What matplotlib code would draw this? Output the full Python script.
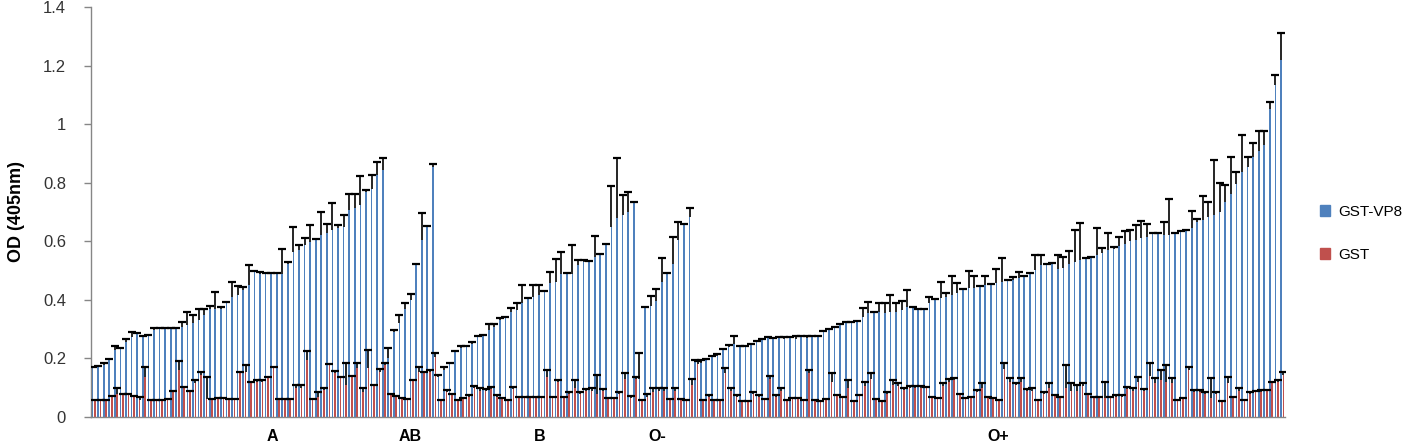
import numpy as np
import matplotlib
matplotlib.use("Agg")
import matplotlib.pyplot as plt
from matplotlib.patches import Patch

plt.rcParams['font.family'] = ['Liberation Sans', 'DejaVu Sans']

# group names and where their labels sit (axes fraction)
groups = ["A", "AB", "B", "O-", "O+"]
group_label_x = [0.1516, 0.2672, 0.3761, 0.4740, 0.7596]

# ---- GST-VP8 (blue) means and upper errors, sorted within each group ----
a_vp8 = [0.166, 0.17, 0.177, 0.195, 0.23, 0.232, 0.257, 0.274, 0.285, 0.272,
         0.276, 0.297, 0.30, 0.30, 0.30, 0.302, 0.308, 0.314, 0.32, 0.33,
         0.348, 0.37, 0.37, 0.37, 0.388, 0.41, 0.416, 0.433, 0.45, 0.496,
         0.49, 0.488, 0.488, 0.488, 0.49, 0.524, 0.564, 0.57, 0.587, 0.598,
         0.604, 0.62, 0.627, 0.638, 0.644, 0.65, 0.706, 0.712, 0.724, 0.77,
         0.78, 0.826, 0.843]
a_vp8_err = [0.005, 0.003, 0.006, 0.003, 0.013, 0.003, 0.01, 0.016, 0.003, 0.005,
             0.005, 0.007, 0.003, 0.003, 0.003, 0.003, 0.016, 0.046, 0.028, 0.04,
             0.02, 0.01, 0.057, 0.004, 0.003, 0.05, 0.03, 0.012, 0.07, 0.004,
             0.004, 0.003, 0.003, 0.003, 0.085, 0.005, 0.086, 0.017, 0.023, 0.057,
             0.005, 0.08, 0.033, 0.093, 0.01, 0.04, 0.054, 0.048, 0.10, 0.005,
             0.046, 0.044, 0.04]
ab_vp8 = [0.20, 0.29, 0.32, 0.37, 0.40, 0.519, 0.606, 0.65, 0.855]
ab_vp8_err = [0.034, 0.007, 0.028, 0.02, 0.02, 0.003, 0.089, 0.003, 0.008]
b_vp8 = [0.138, 0.16, 0.183, 0.223, 0.234, 0.24, 0.25, 0.274, 0.277, 0.297,
         0.308, 0.33, 0.337, 0.36, 0.365, 0.388, 0.405, 0.41, 0.416, 0.428,
         0.456, 0.462, 0.49, 0.49, 0.49, 0.519, 0.53, 0.53, 0.547, 0.553,
         0.587, 0.65, 0.681, 0.69, 0.70, 0.73]
b_vp8_err = [0.005, 0.01, 0.003, 0.003, 0.008, 0.003, 0.007, 0.003, 0.003, 0.019,
             0.008, 0.007, 0.003, 0.011, 0.025, 0.062, 0.003, 0.04, 0.034, 0.003,
             0.04, 0.078, 0.074, 0.003, 0.097, 0.017, 0.006, 0.003, 0.071, 0.003,
             0.003, 0.138, 0.202, 0.068, 0.069, 0.003]
oneg_vp8 = [0.13, 0.371, 0.38, 0.397, 0.462, 0.49, 0.524, 0.604, 0.655, 0.684]
oneg_vp8_err = [0.09, 0.003, 0.033, 0.04, 0.08, 0.003, 0.09, 0.063, 0.003, 0.028]
opos_vp8 = [0.19, 0.185, 0.195, 0.205, 0.21, 0.23, 0.24, 0.25, 0.24, 0.24,
            0.245, 0.255, 0.265, 0.27, 0.265, 0.27, 0.265, 0.27, 0.265, 0.275,
            0.27, 0.272,
            0.272, 0.291, 0.297, 0.303, 0.314, 0.32, 0.322, 0.325, 0.342, 0.354,
            0.356, 0.36, 0.354, 0.36, 0.36, 0.365, 0.377, 0.371, 0.367, 0.365,
            0.388, 0.40, 0.405, 0.41, 0.416, 0.422, 0.433, 0.44, 0.44, 0.445,
            0.45, 0.45, 0.456, 0.462, 0.465, 0.467, 0.473, 0.479, 0.488, 0.502,
            0.519, 0.519, 0.524,
            0.507, 0.51, 0.524, 0.53, 0.536, 0.54, 0.545, 0.553, 0.56, 0.57,
            0.575, 0.585, 0.59, 0.60, 0.604, 0.61, 0.615, 0.627, 0.627, 0.621,
            0.621, 0.627, 0.632, 0.636, 0.645, 0.667, 0.672, 0.684, 0.69, 0.70,
            0.735, 0.763, 0.797, 0.837, 0.854, 0.888, 0.91, 0.93, 1.053, 1.133,
            1.218]
opos_vp8_err = [0.003, 0.008, 0.003, 0.003, 0.005, 0.003, 0.005, 0.028, 0.003, 0.003,
                0.003, 0.003, 0.003, 0.003, 0.005, 0.003, 0.008, 0.003, 0.01, 0.003,
                0.005, 0.003,
                0.003, 0.003, 0.003, 0.003, 0.003, 0.003, 0.003, 0.003, 0.03, 0.04,
                0.003, 0.03, 0.035, 0.055, 0.03, 0.03, 0.055, 0.003, 0.003, 0.003,
                0.023, 0.003, 0.055, 0.015, 0.065, 0.034, 0.003, 0.057, 0.043, 0.003,
                0.03, 0.003, 0.05, 0.082, 0.003, 0.011, 0.023, 0.003, 0.003, 0.05,
                0.034, 0.003, 0.003,
                0.046, 0.035, 0.044, 0.11, 0.125, 0.003, 0.003, 0.094, 0.016, 0.057,
                0.005, 0.03, 0.046, 0.04, 0.05, 0.06, 0.045, 0.003, 0.003, 0.046,
                0.125, 0.003, 0.003, 0.003, 0.06, 0.008, 0.082, 0.05, 0.187, 0.10,
                0.057, 0.125, 0.04, 0.125, 0.034, 0.046, 0.066, 0.046, 0.023, 0.034,
                0.092]

# ---- GST (red) means and upper errors ----
a_gst = [0.056, 0.056, 0.056, 0.07, 0.08, 0.075, 0.075, 0.07, 0.058, 0.138,
         0.056, 0.056, 0.056, 0.058, 0.086, 0.16, 0.10, 0.086, 0.115, 0.143,
         0.06, 0.06, 0.06, 0.06, 0.06, 0.06, 0.15, 0.155, 0.115, 0.12,
         0.12, 0.132, 0.166, 0.06, 0.06, 0.06, 0.10, 0.10, 0.195, 0.058,
         0.07, 0.092, 0.177, 0.15, 0.135, 0.109, 0.138, 0.166, 0.086, 0.166,
         0.106, 0.155, 0.177]
a_gst_err = [0.003, 0.003, 0.003, 0.003, 0.018, 0.003, 0.003, 0.003, 0.012, 0.034,
             0.003, 0.003, 0.003, 0.003, 0.004, 0.03, 0.003, 0.003, 0.011, 0.012,
             0.078, 0.003, 0.006, 0.006, 0.003, 0.003, 0.003, 0.022, 0.005, 0.005,
             0.006, 0.003, 0.006, 0.003, 0.003, 0.003, 0.009, 0.009, 0.031, 0.003,
             0.016, 0.008, 0.003, 0.008, 0.003, 0.074, 0.003, 0.019, 0.012, 0.064,
             0.003, 0.008, 0.006]
ab_gst = [0.075, 0.07, 0.063, 0.058, 0.125, 0.155, 0.15, 0.155, 0.205]
ab_gst_err = [0.003, 0.003, 0.003, 0.003, 0.003, 0.015, 0.005, 0.005, 0.015]
b_gst = [0.056, 0.085, 0.075, 0.056, 0.06, 0.07, 0.10, 0.09, 0.09, 0.095,
         0.07, 0.06, 0.056, 0.095, 0.065, 0.065, 0.065, 0.065, 0.065, 0.135,
         0.065, 0.12, 0.065, 0.08, 0.10, 0.08, 0.09, 0.09, 0.08, 0.09,
         0.06, 0.06, 0.08, 0.13, 0.065, 0.13]
b_gst_err = [0.003, 0.007, 0.005, 0.003, 0.004, 0.005, 0.006, 0.008, 0.004, 0.008,
             0.005, 0.004, 0.003, 0.008, 0.005, 0.005, 0.005, 0.005, 0.005, 0.025,
             0.005, 0.006, 0.005, 0.006, 0.026, 0.006, 0.004, 0.008, 0.063, 0.004,
             0.004, 0.004, 0.006, 0.02, 0.007, 0.008]
oneg_gst = [0.055, 0.07, 0.085, 0.09, 0.09, 0.058, 0.09, 0.06, 0.056, 0.11]
oneg_gst_err = [0.003, 0.01, 0.013, 0.008, 0.008, 0.003, 0.008, 0.003, 0.003, 0.02]
opos_gst = [0.18, 0.055, 0.07, 0.055, 0.055, 0.15, 0.09, 0.07, 0.05, 0.05,
            0.08, 0.07, 0.058, 0.13, 0.07, 0.09, 0.055, 0.062, 0.062, 0.055,
            0.15, 0.055,
            0.053, 0.057, 0.12, 0.072, 0.067, 0.10, 0.053, 0.072, 0.105, 0.13,
            0.057, 0.053, 0.08, 0.11, 0.105, 0.092, 0.1, 0.1, 0.1, 0.1,
            0.067, 0.06, 0.105, 0.12, 0.125, 0.075, 0.06, 0.067, 0.085, 0.1,
            0.067, 0.06, 0.055, 0.165, 0.12, 0.11, 0.12, 0.088, 0.09, 0.055,
            0.08, 0.10, 0.072,
            0.065, 0.10, 0.09, 0.09, 0.105, 0.075, 0.065, 0.065, 0.065, 0.065,
            0.07, 0.07, 0.095, 0.09, 0.12, 0.09, 0.14, 0.115, 0.125, 0.12,
            0.115, 0.055, 0.06, 0.16, 0.085, 0.085, 0.08, 0.065, 0.08, 0.05,
            0.115, 0.065, 0.09, 0.055, 0.08, 0.085, 0.085, 0.09, 0.115, 0.12,
            0.145]
opos_gst_err = [0.01, 0.003, 0.005, 0.003, 0.003, 0.018, 0.01, 0.005, 0.003, 0.003,
                0.005, 0.005, 0.003, 0.01, 0.005, 0.008, 0.003, 0.003, 0.003, 0.003,
                0.01, 0.003,
                0.003, 0.003, 0.03, 0.003, 0.003, 0.026, 0.003, 0.003, 0.015, 0.02,
                0.003, 0.003, 0.006, 0.016, 0.01, 0.006, 0.006, 0.006, 0.006, 0.003,
                0.003, 0.004, 0.01, 0.01, 0.007, 0.005, 0.004, 0.003, 0.007, 0.015,
                0.003, 0.004, 0.003, 0.018, 0.012, 0.005, 0.012, 0.006, 0.008, 0.003,
                0.006, 0.017, 0.003,
                0.005, 0.077, 0.027, 0.02, 0.01, 0.005, 0.005, 0.005, 0.055, 0.005,
                0.005, 0.005, 0.009, 0.008, 0.018, 0.004, 0.043, 0.017, 0.035, 0.057,
                0.017, 0.003, 0.004, 0.012, 0.007, 0.007, 0.006, 0.067, 0.006, 0.003,
                0.023, 0.005, 0.008, 0.003, 0.006, 0.003, 0.007, 0.003, 0.005, 0.006,
                0.01]

vp8 = np.array(a_vp8 + ab_vp8 + b_vp8 + oneg_vp8 + opos_vp8)
vp8_err = np.array(a_vp8_err + ab_vp8_err + b_vp8_err + oneg_vp8_err + opos_vp8_err)
gst = np.array(a_gst + ab_gst + b_gst + oneg_gst + opos_gst)
gst_err = np.array(a_gst_err + ab_gst_err + b_gst_err + oneg_gst_err + opos_gst_err)
n = len(vp8)
x = np.arange(n)

fig = plt.figure(figsize=(14.18, 4.45), dpi=100)
ax = fig.add_axes([91 / 1418, 28 / 445, 1194 / 1418, 410 / 445])

blue = "#4F81BD"
red = "#C0504D"
off, w = 0.22, 0.3
ax.bar(x - off, vp8, width=w, color=blue, zorder=2)
ax.bar(x + off, gst, width=w, color=red, zorder=2)


def plus_errorbar(xs, vals, errs):
    # Excel-style "plus" error bars: stem and a single top cap
    eb = ax.errorbar(xs, vals, yerr=[np.zeros(len(vals)), errs], fmt="none",
                     ecolor="black", elinewidth=1.2, capsize=3.2, capthick=1.6,
                     zorder=3)
    for cap in eb[1]:
        if np.allclose(cap.get_ydata(), vals):
            cap.set_visible(False)


plus_errorbar(x - off, vp8, vp8_err)
plus_errorbar(x + off, gst, gst_err)

ax.set_xlim(-0.5, n - 0.5)
ax.set_ylim(0, 1.4)
yt = np.arange(0, 1.41, 0.2)
ax.set_yticks(yt)
ax.set_yticklabels([f"{v:g}" for v in np.round(yt, 1)], fontsize=12, color="#333333")
ax.tick_params(axis="y", length=5, width=1, color="#868686", pad=13)
ax.set_xticks([])

for s in ["top", "right"]:
    ax.spines[s].set_visible(False)
for s in ["left", "bottom"]:
    ax.spines[s].set_color("#868686")
    ax.spines[s].set_linewidth(1)

ax.set_ylabel("OD (405nm)", fontsize=13, fontweight="bold")
ax.yaxis.set_label_coords(-0.055, 0.5)

for g, gx in zip(groups, group_label_x):
    ax.text(gx, -0.048, g, transform=ax.transAxes, ha="center", va="center",
            fontsize=11.5, fontweight="bold")

handles = [Patch(color=blue, label="GST-VP8"), Patch(color=red, label="GST")]
fig.legend(handles=handles, loc="upper left", bbox_to_anchor=(1312 / 1418, 1 - 197 / 445),
           frameon=False, fontsize=11, handlelength=0.7, handleheight=0.7,
           handletextpad=0.5, labelspacing=1.9, borderpad=0)

fig.savefig("out.png", dpi=100)
